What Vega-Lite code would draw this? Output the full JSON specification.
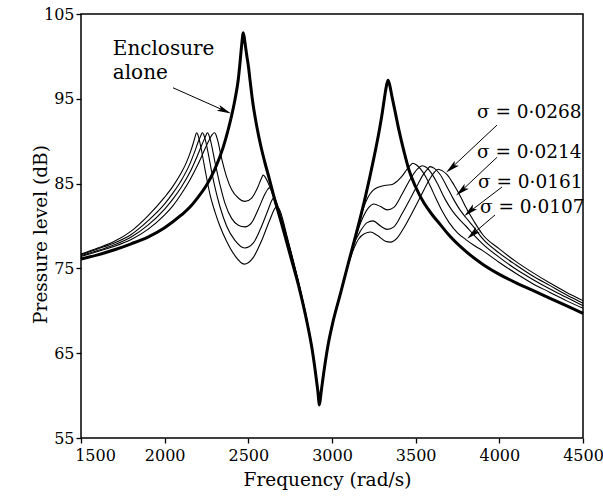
{
"$schema": "https://vega.github.io/schema/vega-lite/v6.json",
"width": 502, "height": 424,
"autosize": {"type": "none"},
"padding": {"left": 81, "top": 14, "right": 20, "bottom": 61},
"background": "white",
"config": {"view": {"stroke": "black", "strokeWidth": 1.5}, "font": "DejaVu Serif",
 "axis": {"labelColor": "black", "labelFont": "DejaVu Serif", "labelFontSize": 16, "titleFont": "DejaVu Serif", "titleFontSize": 18.5, "titleFontWeight": "normal", "titleColor": "black", "labelFlush": false}},
"datasets": {
"curves": [
{"s":"T","f":1500,"p":76.1},{"s":"T","f":1600,"p":76.6},{"s":"T","f":1700,"p":77.2},{"s":"T","f":1800,"p":77.9},{"s":"T","f":1900,"p":78.7},{"s":"T","f":2000,"p":79.8},{"s":"T","f":2100,"p":81.3},{"s":"T","f":2150,"p":82.2},{"s":"T","f":2200,"p":83.4},{"s":"T","f":2250,"p":84.8},{"s":"T","f":2300,"p":86.7},{"s":"T","f":2350,"p":89.3},{"s":"T","f":2380,"p":91.4},{"s":"T","f":2400,"p":93.0},{"s":"T","f":2420,"p":94.9},{"s":"T","f":2440,"p":97.3},{"s":"T","f":2450,"p":99.2},{"s":"T","f":2460,"p":101.3},{"s":"T","f":2470,"p":102.8},{"s":"T","f":2480,"p":101.6},{"s":"T","f":2490,"p":100.2},{"s":"T","f":2500,"p":98.9},{"s":"T","f":2512,"p":96.9},{"s":"T","f":2525,"p":94.8},{"s":"T","f":2550,"p":91.8},{"s":"T","f":2575,"p":89.4},{"s":"T","f":2600,"p":87.4},{"s":"T","f":2625,"p":85.6},{"s":"T","f":2650,"p":83.7},{"s":"T","f":2700,"p":80.2},{"s":"T","f":2750,"p":76.6},{"s":"T","f":2800,"p":73.0},{"s":"T","f":2850,"p":68.7},{"s":"T","f":2880,"p":65.6},{"s":"T","f":2900,"p":62.9},{"s":"T","f":2915,"p":60.6},{"s":"T","f":2925,"p":58.9},{"s":"T","f":2935,"p":60.4},{"s":"T","f":2950,"p":62.6},{"s":"T","f":2975,"p":65.8},{"s":"T","f":3000,"p":68.2},{"s":"T","f":3050,"p":72.0},{"s":"T","f":3100,"p":75.8},{"s":"T","f":3150,"p":79.5},{"s":"T","f":3200,"p":83.5},{"s":"T","f":3250,"p":88.0},{"s":"T","f":3280,"p":91.0},{"s":"T","f":3300,"p":93.3},{"s":"T","f":3315,"p":95.3},{"s":"T","f":3325,"p":96.5},{"s":"T","f":3335,"p":97.2},{"s":"T","f":3345,"p":96.6},{"s":"T","f":3358,"p":95.3},{"s":"T","f":3376,"p":93.6},{"s":"T","f":3400,"p":91.3},{"s":"T","f":3430,"p":88.8},{"s":"T","f":3460,"p":86.6},{"s":"T","f":3500,"p":84.6},{"s":"T","f":3550,"p":82.7},{"s":"T","f":3600,"p":81.3},{"s":"T","f":3650,"p":80.1},{"s":"T","f":3700,"p":78.9},{"s":"T","f":3800,"p":77.0},{"s":"T","f":3900,"p":75.5},{"s":"T","f":4000,"p":74.3},{"s":"T","f":4100,"p":73.3},{"s":"T","f":4200,"p":72.4},{"s":"T","f":4300,"p":71.5},{"s":"T","f":4400,"p":70.6},{"s":"T","f":4500,"p":69.7},
{"s":"A","f":1500,"p":76.7},{"s":"A","f":1600,"p":77.4},{"s":"A","f":1700,"p":78.2},{"s":"A","f":1800,"p":79.4},{"s":"A","f":1900,"p":81.2},{"s":"A","f":2000,"p":83.4},{"s":"A","f":2050,"p":84.7},{"s":"A","f":2100,"p":86.3},{"s":"A","f":2130,"p":87.5},{"s":"A","f":2150,"p":88.5},{"s":"A","f":2170,"p":89.7},{"s":"A","f":2183,"p":90.6},{"s":"A","f":2190,"p":91.0},{"s":"A","f":2198,"p":90.8},{"s":"A","f":2210,"p":89.9},{"s":"A","f":2225,"p":88.4},{"s":"A","f":2240,"p":86.8},{"s":"A","f":2270,"p":83.8},{"s":"A","f":2300,"p":81.7},{"s":"A","f":2330,"p":80.0},{"s":"A","f":2370,"p":78.2},{"s":"A","f":2420,"p":76.5},{"s":"A","f":2475,"p":75.5},{"s":"A","f":2530,"p":76.3},{"s":"A","f":2580,"p":78.3},{"s":"A","f":2630,"p":80.8},{"s":"A","f":2660,"p":82.1},{"s":"A","f":2672,"p":82.3},{"s":"A","f":2685,"p":82.0},{"s":"A","f":2700,"p":81.2},{"s":"A","f":2730,"p":78.9},{"s":"A","f":2760,"p":76.6},{"s":"A","f":2800,"p":73.4},{"s":"A","f":2850,"p":69.0},{"s":"A","f":2880,"p":65.7},{"s":"A","f":2900,"p":63.0},{"s":"A","f":2915,"p":60.7},{"s":"A","f":2925,"p":59.0},{"s":"A","f":2935,"p":60.5},{"s":"A","f":2950,"p":62.7},{"s":"A","f":2975,"p":65.9},{"s":"A","f":3000,"p":68.3},{"s":"A","f":3050,"p":72.0},{"s":"A","f":3100,"p":75.6},{"s":"A","f":3130,"p":77.3},{"s":"A","f":3160,"p":78.5},{"s":"A","f":3195,"p":79.1},{"s":"A","f":3230,"p":79.3},{"s":"A","f":3270,"p":78.9},{"s":"A","f":3320,"p":78.2},{"s":"A","f":3350,"p":78.1},{"s":"A","f":3390,"p":78.6},{"s":"A","f":3430,"p":79.8},{"s":"A","f":3480,"p":81.6},{"s":"A","f":3530,"p":83.5},{"s":"A","f":3580,"p":85.4},{"s":"A","f":3610,"p":86.3},{"s":"A","f":3634,"p":86.7},{"s":"A","f":3660,"p":86.5},{"s":"A","f":3690,"p":86.0},{"s":"A","f":3730,"p":84.8},{"s":"A","f":3770,"p":83.4},{"s":"A","f":3800,"p":82.2},{"s":"A","f":3850,"p":80.5},{"s":"A","f":3900,"p":79.0},{"s":"A","f":4000,"p":77.3},{"s":"A","f":4100,"p":75.8},{"s":"A","f":4200,"p":74.5},{"s":"A","f":4300,"p":73.3},{"s":"A","f":4400,"p":72.2},{"s":"A","f":4500,"p":71.2},
{"s":"B","f":1500,"p":76.6},{"s":"B","f":1600,"p":77.3},{"s":"B","f":1700,"p":78.0},{"s":"B","f":1800,"p":79.0},{"s":"B","f":1900,"p":80.6},{"s":"B","f":2000,"p":82.6},{"s":"B","f":2050,"p":83.9},{"s":"B","f":2100,"p":85.4},{"s":"B","f":2150,"p":87.3},{"s":"B","f":2180,"p":88.8},{"s":"B","f":2200,"p":89.9},{"s":"B","f":2215,"p":90.6},{"s":"B","f":2225,"p":91.0},{"s":"B","f":2233,"p":90.8},{"s":"B","f":2245,"p":90.0},{"s":"B","f":2260,"p":88.6},{"s":"B","f":2280,"p":86.5},{"s":"B","f":2300,"p":84.6},{"s":"B","f":2330,"p":82.3},{"s":"B","f":2370,"p":80.0},{"s":"B","f":2420,"p":78.3},{"s":"B","f":2478,"p":77.4},{"s":"B","f":2530,"p":78.0},{"s":"B","f":2580,"p":80.0},{"s":"B","f":2620,"p":82.0},{"s":"B","f":2640,"p":83.0},{"s":"B","f":2650,"p":83.3},{"s":"B","f":2662,"p":83.1},{"s":"B","f":2680,"p":82.1},{"s":"B","f":2700,"p":80.8},{"s":"B","f":2730,"p":78.7},{"s":"B","f":2760,"p":76.5},{"s":"B","f":2800,"p":73.3},{"s":"B","f":2850,"p":68.9},{"s":"B","f":2880,"p":65.7},{"s":"B","f":2900,"p":63.0},{"s":"B","f":2915,"p":60.7},{"s":"B","f":2925,"p":59.0},{"s":"B","f":2935,"p":60.5},{"s":"B","f":2950,"p":62.7},{"s":"B","f":2975,"p":65.9},{"s":"B","f":3000,"p":68.3},{"s":"B","f":3050,"p":72.0},{"s":"B","f":3100,"p":75.7},{"s":"B","f":3130,"p":77.8},{"s":"B","f":3170,"p":79.4},{"s":"B","f":3210,"p":80.4},{"s":"B","f":3245,"p":80.6},{"s":"B","f":3290,"p":80.0},{"s":"B","f":3330,"p":79.6},{"s":"B","f":3370,"p":79.9},{"s":"B","f":3420,"p":81.5},{"s":"B","f":3470,"p":83.3},{"s":"B","f":3510,"p":84.8},{"s":"B","f":3550,"p":86.2},{"s":"B","f":3575,"p":86.8},{"s":"B","f":3586,"p":87.0},{"s":"B","f":3612,"p":86.8},{"s":"B","f":3645,"p":86.1},{"s":"B","f":3685,"p":84.7},{"s":"B","f":3725,"p":83.2},{"s":"B","f":3765,"p":81.9},{"s":"B","f":3800,"p":81.0},{"s":"B","f":3850,"p":79.8},{"s":"B","f":3900,"p":78.5},{"s":"B","f":4000,"p":76.8},{"s":"B","f":4100,"p":75.4},{"s":"B","f":4200,"p":74.1},{"s":"B","f":4300,"p":73.0},{"s":"B","f":4400,"p":71.9},{"s":"B","f":4500,"p":70.9},
{"s":"C","f":1500,"p":76.5},{"s":"C","f":1600,"p":77.1},{"s":"C","f":1700,"p":77.8},{"s":"C","f":1800,"p":78.7},{"s":"C","f":1900,"p":80.1},{"s":"C","f":2000,"p":82.0},{"s":"C","f":2050,"p":83.2},{"s":"C","f":2100,"p":84.6},{"s":"C","f":2150,"p":86.3},{"s":"C","f":2200,"p":88.5},{"s":"C","f":2225,"p":89.7},{"s":"C","f":2245,"p":90.6},{"s":"C","f":2255,"p":91.0},{"s":"C","f":2263,"p":90.8},{"s":"C","f":2275,"p":90.0},{"s":"C","f":2300,"p":87.6},{"s":"C","f":2330,"p":84.9},{"s":"C","f":2360,"p":82.7},{"s":"C","f":2400,"p":80.9},{"s":"C","f":2440,"p":80.1},{"s":"C","f":2480,"p":79.9},{"s":"C","f":2520,"p":80.4},{"s":"C","f":2560,"p":82.0},{"s":"C","f":2600,"p":83.8},{"s":"C","f":2615,"p":84.3},{"s":"C","f":2625,"p":84.5},{"s":"C","f":2638,"p":84.3},{"s":"C","f":2655,"p":83.5},{"s":"C","f":2675,"p":82.2},{"s":"C","f":2700,"p":80.6},{"s":"C","f":2730,"p":78.6},{"s":"C","f":2760,"p":76.4},{"s":"C","f":2800,"p":73.2},{"s":"C","f":2850,"p":68.8},{"s":"C","f":2880,"p":65.6},{"s":"C","f":2900,"p":62.9},{"s":"C","f":2915,"p":60.6},{"s":"C","f":2925,"p":58.9},{"s":"C","f":2935,"p":60.4},{"s":"C","f":2950,"p":62.6},{"s":"C","f":2975,"p":65.8},{"s":"C","f":3000,"p":68.2},{"s":"C","f":3050,"p":72.0},{"s":"C","f":3100,"p":75.8},{"s":"C","f":3140,"p":78.6},{"s":"C","f":3180,"p":80.8},{"s":"C","f":3220,"p":82.2},{"s":"C","f":3250,"p":82.6},{"s":"C","f":3290,"p":82.3},{"s":"C","f":3330,"p":81.9},{"s":"C","f":3370,"p":82.2},{"s":"C","f":3420,"p":83.8},{"s":"C","f":3470,"p":85.6},{"s":"C","f":3510,"p":86.7},{"s":"C","f":3538,"p":87.1},{"s":"C","f":3565,"p":86.9},{"s":"C","f":3595,"p":86.2},{"s":"C","f":3635,"p":84.8},{"s":"C","f":3675,"p":83.2},{"s":"C","f":3715,"p":81.9},{"s":"C","f":3760,"p":80.8},{"s":"C","f":3800,"p":80.0},{"s":"C","f":3850,"p":78.9},{"s":"C","f":3900,"p":77.9},{"s":"C","f":4000,"p":76.3},{"s":"C","f":4100,"p":74.9},{"s":"C","f":4200,"p":73.7},{"s":"C","f":4300,"p":72.6},{"s":"C","f":4400,"p":71.6},{"s":"C","f":4500,"p":70.6},
{"s":"D","f":1500,"p":76.4},{"s":"D","f":1600,"p":77.0},{"s":"D","f":1700,"p":77.6},{"s":"D","f":1800,"p":78.4},{"s":"D","f":1900,"p":79.6},{"s":"D","f":2000,"p":81.3},{"s":"D","f":2050,"p":82.4},{"s":"D","f":2100,"p":83.8},{"s":"D","f":2150,"p":85.4},{"s":"D","f":2200,"p":87.3},{"s":"D","f":2250,"p":89.5},{"s":"D","f":2270,"p":90.3},{"s":"D","f":2285,"p":90.8},{"s":"D","f":2297,"p":91.0},{"s":"D","f":2306,"p":90.8},{"s":"D","f":2318,"p":90.0},{"s":"D","f":2340,"p":88.0},{"s":"D","f":2370,"p":85.8},{"s":"D","f":2400,"p":84.3},{"s":"D","f":2440,"p":83.3},{"s":"D","f":2480,"p":82.9},{"s":"D","f":2520,"p":83.3},{"s":"D","f":2555,"p":84.5},{"s":"D","f":2578,"p":85.6},{"s":"D","f":2589,"p":86.0},{"s":"D","f":2600,"p":85.8},{"s":"D","f":2620,"p":85.0},{"s":"D","f":2645,"p":83.7},{"s":"D","f":2670,"p":82.0},{"s":"D","f":2700,"p":80.4},{"s":"D","f":2730,"p":78.5},{"s":"D","f":2760,"p":76.3},{"s":"D","f":2800,"p":73.1},{"s":"D","f":2850,"p":68.8},{"s":"D","f":2880,"p":65.6},{"s":"D","f":2900,"p":62.9},{"s":"D","f":2915,"p":60.6},{"s":"D","f":2925,"p":58.9},{"s":"D","f":2935,"p":60.4},{"s":"D","f":2950,"p":62.6},{"s":"D","f":2975,"p":65.8},{"s":"D","f":3000,"p":68.2},{"s":"D","f":3050,"p":72.0},{"s":"D","f":3100,"p":75.8},{"s":"D","f":3150,"p":79.5},{"s":"D","f":3186,"p":82.0},{"s":"D","f":3215,"p":83.4},{"s":"D","f":3245,"p":84.2},{"s":"D","f":3280,"p":84.6},{"s":"D","f":3320,"p":84.8},{"s":"D","f":3360,"p":84.9},{"s":"D","f":3390,"p":85.3},{"s":"D","f":3420,"p":85.9},{"s":"D","f":3445,"p":86.6},{"s":"D","f":3465,"p":87.1},{"s":"D","f":3484,"p":87.4},{"s":"D","f":3505,"p":87.2},{"s":"D","f":3530,"p":86.7},{"s":"D","f":3560,"p":85.8},{"s":"D","f":3590,"p":84.6},{"s":"D","f":3620,"p":83.3},{"s":"D","f":3660,"p":81.7},{"s":"D","f":3700,"p":80.4},{"s":"D","f":3750,"p":79.2},{"s":"D","f":3800,"p":78.4},{"s":"D","f":3850,"p":77.7},{"s":"D","f":3900,"p":77.1},{"s":"D","f":4000,"p":75.7},{"s":"D","f":4100,"p":74.4},{"s":"D","f":4200,"p":73.2},{"s":"D","f":4300,"p":72.2},{"s":"D","f":4400,"p":71.2},{"s":"D","f":4500,"p":70.3}
],
"arrows": [
{"g":"E","x1":2050,"y1":96.3,"x2":2375,"y2":93.45},
{"g":"S","x1":3986,"y1":91.9,"x2":3700,"y2":86.6},
{"g":"S","x1":3986,"y1":88.1,"x2":3760,"y2":83.9},
{"g":"S","x1":4016,"y1":84.6,"x2":3810,"y2":81.5},
{"g":"S","x1":3974,"y1":81.3,"x2":3826,"y2":78.8}
],
"heads": [
{"g":"E","f":2358,"p":93.6},
{"g":"S","f":3714,"p":86.85},
{"g":"S","f":3773,"p":84.14},
{"g":"S","f":3823,"p":81.72},
{"g":"S","f":3840,"p":79.04}
],
"notes": [
{"g":"E","t":"Enclosure","f":1690,"p":100.2},
{"g":"E","t":"alone","f":1690,"p":97.3},
{"g":"S","t":"σ = 0·0268","f":3866,"p":92.7},
{"g":"S","t":"σ = 0·0214","f":3866,"p":88.0},
{"g":"S","t":"σ = 0·0161","f":3872,"p":84.5},
{"g":"S","t":"σ = 0·0107","f":3884,"p":81.5}
]
},
"layer": [
{"data": {"name": "curves"}, "transform": [{"filter": "datum.s != 'T'"}],
 "mark": {"type": "line", "color": "black", "strokeWidth": 1.1, "interpolate": "monotone", "strokeJoin": "round"},
 "encoding": {
  "x": {"field": "f", "type": "quantitative", "scale": {"domain": [1500, 4500], "nice": false, "zero": false},
   "axis": {"orient": "bottom", "values": [1500,2000,2500,3000,3500,4000,4500], "format": "d", "title": "Frequency (rad/s)",
    "domain": false, "grid": false, "ticks": true, "tickSize": 5, "tickColor": "black", "tickWidth": 1.3,
    "labelPadding": 4,
    "labelOffset": {"condition": {"test": "datum.value == 1500", "value": 14}, "value": 0},
    "titleX": 246, "titleY": 47, "titleBaseline": "alphabetic"}},
  "y": {"field": "p", "type": "quantitative", "scale": {"domain": [55, 105], "nice": false, "zero": false},
   "axis": {"orient": "left", "values": [55,65,75,85,95,105], "format": "d", "title": "Pressure level (dB)",
    "domain": false, "grid": false, "ticks": true, "tickSize": 5, "tickColor": "black", "tickWidth": 1.3,
    "labelPadding": 2,
    "titleX": -35, "titleY": 220, "titleBaseline": "alphabetic"}},
  "detail": {"field": "s"}}},
{"data": {"name": "curves"}, "transform": [{"filter": "datum.s == 'T'"}],
 "mark": {"type": "line", "color": "black", "strokeWidth": 3, "interpolate": "monotone", "strokeJoin": "round"},
 "encoding": {
  "x": {"field": "f", "type": "quantitative", "scale": {"domain": [1500, 4500], "nice": false, "zero": false}},
  "y": {"field": "p", "type": "quantitative", "scale": {"domain": [55, 105], "nice": false, "zero": false}}}},
{"data": {"name": "arrows"},
 "mark": {"type": "rule", "color": "black", "strokeWidth": 1},
 "encoding": {
  "x": {"field": "x1", "type": "quantitative", "scale": {"domain": [1500, 4500], "nice": false, "zero": false}},
  "y": {"field": "y1", "type": "quantitative", "scale": {"domain": [55, 105], "nice": false, "zero": false}},
  "x2": {"field": "x2"}, "y2": {"field": "y2"}}},
{"data": {"name": "heads"}, "transform": [{"filter": "datum.g == 'E'"}],
 "mark": {"type": "point", "shape": "M0,-1L0.45,1L0,0.55L-0.45,1Z", "filled": true, "color": "black", "opacity": 1, "size": 200, "angle": 114, "strokeWidth": 0},
 "encoding": {
  "x": {"field": "f", "type": "quantitative", "scale": {"domain": [1500, 4500], "nice": false, "zero": false}},
  "y": {"field": "p", "type": "quantitative", "scale": {"domain": [55, 105], "nice": false, "zero": false}}}},
{"data": {"name": "heads"}, "transform": [{"filter": "datum.g == 'S'"}],
 "mark": {"type": "point", "shape": "M0,-1L0.45,1L0,0.55L-0.45,1Z", "filled": true, "color": "black", "opacity": 1, "size": 200, "angle": 229, "strokeWidth": 0},
 "encoding": {
  "x": {"field": "f", "type": "quantitative", "scale": {"domain": [1500, 4500], "nice": false, "zero": false}},
  "y": {"field": "p", "type": "quantitative", "scale": {"domain": [55, 105], "nice": false, "zero": false}}}},
{"data": {"name": "notes"}, "transform": [{"filter": "datum.g == 'E'"}],
 "mark": {"type": "text", "align": "left", "baseline": "alphabetic", "font": "DejaVu Serif", "fontSize": 20, "color": "black"},
 "encoding": {
  "x": {"field": "f", "type": "quantitative", "scale": {"domain": [1500, 4500], "nice": false, "zero": false}},
  "y": {"field": "p", "type": "quantitative", "scale": {"domain": [55, 105], "nice": false, "zero": false}},
  "text": {"field": "t"}}},
{"data": {"name": "notes"}, "transform": [{"filter": "datum.g == 'S'"}],
 "mark": {"type": "text", "align": "left", "baseline": "alphabetic", "font": "DejaVu Serif", "fontSize": 18.5, "color": "black"},
 "encoding": {
  "x": {"field": "f", "type": "quantitative", "scale": {"domain": [1500, 4500], "nice": false, "zero": false}},
  "y": {"field": "p", "type": "quantitative", "scale": {"domain": [55, 105], "nice": false, "zero": false}},
  "text": {"field": "t"}}}
]
}
